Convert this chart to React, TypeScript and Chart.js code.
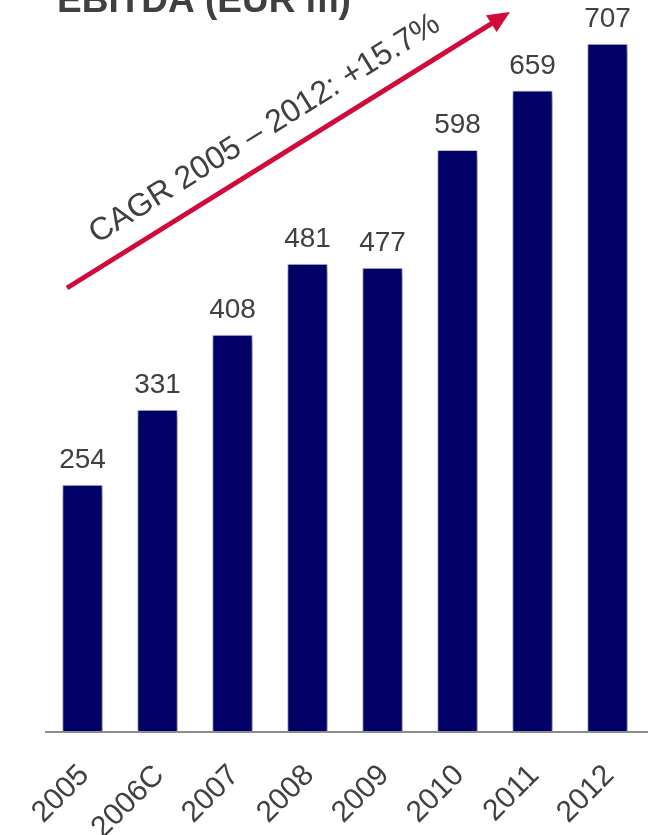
import React, { useEffect, useRef } from "react";
import { Chart, registerables } from "chart.js";

Chart.register(...registerables);

// ---- data ----
const categories = ["2005", "2006C", "2007", "2008", "2009", "2010", "2011", "2012"];
const ebitda = [254, 331, 408, 481, 477, 598, 659, 707];
const titleText = "EBITDA (EUR m)";
const cagrText = "CAGR 2005 \u2013 2012: +15.7%";

const FONT = "'Liberation Sans', Arial, Helvetica, sans-serif";
const TEXT_COLOR = "#404040";
const BAR_COLOR = "#000066";
const ARROW_COLOR = "#d20a3c";

const shadowPlugin = {
  id: "barShadow",
  beforeDatasetsDraw(chart: any) {
    const ctx = chart.ctx;
    ctx.save();
    ctx.shadowColor = "rgba(0,0,0,0.4)";
    ctx.shadowBlur = 7;
    ctx.shadowOffsetX = 2;
    ctx.shadowOffsetY = 3;
  },
  afterDatasetsDraw(chart: any) {
    chart.ctx.restore();
  },
};

const overlayPlugin = {
  id: "overlay",
  afterDraw(chart: any) {
    const ctx = chart.ctx;
    const area = chart.chartArea;
    const yScale = chart.scales.y;
    const zeroY = yScale.getPixelForValue(0);

    // baseline
    ctx.save();
    ctx.strokeStyle = "#8c8c8c";
    ctx.lineWidth = 2;
    ctx.beginPath();
    ctx.moveTo(area.left, zeroY);
    ctx.lineTo(chart.width, zeroY);
    ctx.stroke();
    ctx.restore();

    // value labels
    const meta = chart.getDatasetMeta(0);
    ctx.save();
    ctx.fillStyle = TEXT_COLOR;
    ctx.font = `28px ${FONT}`;
    ctx.textAlign = "center";
    ctx.textBaseline = "alphabetic";
    meta.data.forEach((bar: any, i: number) => {
      ctx.fillText(String(ebitda[i]), bar.x, bar.y - 17);
    });
    ctx.restore();

    // title (partly cut off at the top)
    ctx.save();
    ctx.fillStyle = TEXT_COLOR;
    ctx.font = `bold 37px ${FONT}`;
    ctx.textAlign = "left";
    ctx.textBaseline = "alphabetic";
    ctx.fillText(titleText, 57, 12);
    ctx.restore();

    // CAGR arrow
    const sx = area.left + 22, sy = 288;
    const ex = area.left + 465, ey = 12;
    const ang = Math.atan2(ey - sy, ex - sx);
    const headLen = 22, headW = 10;
    const bx = ex - headLen * Math.cos(ang), by = ey - headLen * Math.sin(ang);
    ctx.save();
    ctx.strokeStyle = ARROW_COLOR;
    ctx.fillStyle = ARROW_COLOR;
    ctx.lineWidth = 5;
    ctx.beginPath();
    ctx.moveTo(sx, sy);
    ctx.lineTo(bx + 2 * Math.cos(ang), by + 2 * Math.sin(ang));
    ctx.stroke();
    ctx.beginPath();
    ctx.moveTo(ex, ey);
    ctx.lineTo(bx - headW * Math.sin(ang), by + headW * Math.cos(ang));
    ctx.lineTo(bx + headW * Math.sin(ang), by - headW * Math.cos(ang));
    ctx.closePath();
    ctx.fill();
    ctx.restore();

    // CAGR text
    ctx.save();
    ctx.fillStyle = TEXT_COLOR;
    ctx.font = `32px ${FONT}`;
    ctx.textAlign = "left";
    ctx.textBaseline = "alphabetic";
    ctx.translate(area.left + 52, 244);
    ctx.rotate(ang);
    ctx.fillText(cagrText, 0, 0);
    ctx.restore();
  },
};

export default function App() {
  const canvasRef = useRef<HTMLCanvasElement | null>(null);

  useEffect(() => {
    const canvas = canvasRef.current;
    if (!canvas) return;
    const chart = new Chart(canvas, {
      type: "bar",
      data: {
        labels: categories,
        datasets: [
          {
            label: "EBITDA (EUR m)",
            data: ebitda,
            backgroundColor: BAR_COLOR,
            borderColor: "#c8c8e6",
            borderWidth: 1,
            barPercentage: 0.54,
            categoryPercentage: 1,
          },
        ],
      },
      options: {
        responsive: false,
        animation: false,
        layout: { padding: { left: 45, right: 3, top: 0, bottom: 0 } },
        plugins: {
          legend: { display: false },
          tooltip: { enabled: false },
          title: { display: false },
        },
        scales: {
          x: {
            grid: { display: false, drawTicks: false },
            border: { display: false },
            ticks: {
              color: TEXT_COLOR,
              font: { family: FONT, size: 30 },
              maxRotation: 45,
              minRotation: 45,
              autoSkip: false,
              padding: 26,
              labelOffset: 2,
            },
            afterFit: (scale: any) => {
              scale.height = 103;
              scale.paddingLeft = 0;
              scale.paddingRight = 0;
              scale.paddingTop = 0;
              scale.paddingBottom = 0;
            },
          },
          y: {
            display: false,
            min: 0,
            max: 752,
          },
        },
      },
      plugins: [shadowPlugin, overlayPlugin],
    });
    return () => chart.destroy();
  }, []);

  return (
    <div style={{ position: "absolute", left: 0, top: 0, width: 648, height: 835, background: "#fff" }}>
      <canvas ref={canvasRef} width={648} height={835} />
    </div>
  );
}
